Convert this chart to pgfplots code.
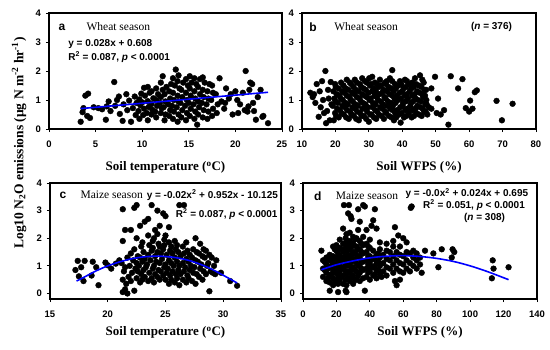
\documentclass[border=0pt]{standalone}
\usepackage{pgfplots}
\pgfplotsset{compat=1.18}
\usepackage{fontspec}
\setmainfont{Liberation Serif}
\newfontfamily\arial{Liberation Sans}
\newcommand\eqf{\arial\bfseries\fontsize{10}{12}\selectfont}
\newcommand\seasonf{\fontsize{11.5}{13}\selectfont}
\newcommand\letterf{\arial\bfseries\fontsize{12}{14}\selectfont}
\pgfplotsset{
  panel/.style={scale only axis, axis line style={line width=1.1pt},
    clip marker paths=true,
    tick align=outside, xtick pos=left, ytick pos=left,
    tick style={line width=0.8pt, black}, major tick length=3pt,
    ticklabel style={font=\arial\bfseries\fontsize{9.5}{10}\selectfont},
    xticklabel style={yshift=-5pt},
    yticklabel style={xshift=-1.5pt},
    /pgf/number format/assume math mode=true,
    ymax=4, ytick={0,1,2,3,4},
    xlabel style={font=\bfseries\fontsize{13}{15}\selectfont},
  },
  dots/.style={only marks, mark=*, mark size=2.9pt, black, mark options={fill=black, draw=black}},
  fit/.style={no marks, blue, line width=1.6pt, smooth},
}
\begin{document}
\begin{tikzpicture}
\useasboundingbox (0,0) rectangle (550pt,349pt);
\node[rotate=90, font=\bfseries\fontsize{13.5}{15}\selectfont] at (19pt,206pt) {Log10 N\textsubscript{2}O emissions (μg N m\textsuperscript{-2} hr\textsuperscript{-1})};
% ---------------- panel a
\begin{axis}[panel, at={(49pt,220pt)}, anchor=south west, width=233pt, height=116pt,
  xmin=0, xmax=25, ymin=0, xtick={0,5,10,15,20,25},
  xlabel={Soil temperature (\textsuperscript{o}C)},
  xlabel style={at={(axis description cs:0.5,-0.335)}, anchor=center}]
\addplot[dots] coordinates {
(3.4,0.25)(3.6,0.58)(3.7,0.72)(3.9,1.15)(4.2,1.22)(4.1,0.45)(4.4,0.38)(4.8,0.75)(5.3,0.72)(5.7,0.68)
(6.1,0.32)(6.2,0.78)(6.4,0.95)(6.6,0.62)(7.0,1.62)(7.1,0.8)(7.3,1.0)(7.5,1.12)(7.6,0.52)(7.9,0.28)
(8.0,0.85)(8.3,1.2)(8.4,0.65)(8.6,0.98)(8.8,0.25)(9.0,0.72)(9.2,1.12)(9.3,0.48)(9.4,0.9)
(9.7,0.35)(9.6,0.62)(9.8,0.82)(9.7,1.02)(9.9,1.22)
(10.1,0.48)(10.2,0.7)(10.0,0.92)(10.3,1.15)(10.2,1.42)
(10.6,0.3)(10.5,0.55)(10.7,0.76)(10.6,0.96)(10.8,1.25)(10.6,1.45)
(11.0,0.5)(11.1,0.66)(11.0,0.86)(11.2,1.06)(11.0,1.3)
(11.5,0.4)(11.4,0.6)(11.6,0.8)(11.5,1.0)(11.7,1.2)(11.5,1.4)
(12.0,0.55)(12.1,0.72)(11.9,0.9)(12.0,1.1)(12.2,1.35)(12.0,1.6)
(12.4,0.3)(12.5,0.5)(12.3,0.75)(12.5,0.95)(12.4,1.2)(12.6,1.45)(12.2,1.82)
(12.9,0.45)(13.0,0.65)(12.8,0.85)(13.0,1.05)(12.9,1.3)(13.1,1.55)
(13.3,0.35)(13.4,0.6)(13.2,0.8)(13.4,1.0)(13.3,1.25)(13.5,1.5)(13.3,1.75)
(13.6,2.05)
(13.8,0.25)(13.9,0.5)(13.7,0.75)(13.9,0.95)(13.8,1.15)(14.0,1.4)(13.8,1.65)(13.9,1.85)
(14.2,0.4)(14.3,0.65)(14.1,0.9)(14.3,1.1)(14.2,1.35)(14.4,1.6)
(14.7,0.3)(14.8,0.55)(14.6,0.8)(14.8,1.0)(14.7,1.25)(14.9,1.5)(14.7,1.72)
(15.1,0.45)(15.2,0.7)(15.0,0.9)(15.2,1.15)(15.1,1.4)(15.3,1.6)(15.1,1.82)
(15.6,0.35)(15.7,0.6)(15.5,0.85)(15.7,1.05)(15.6,1.3)(15.8,1.55)(15.6,1.75)
(15.9,0.15)
(16.0,0.5)(16.1,0.75)(16.0,0.95)(16.2,1.2)(16.0,1.45)(16.2,1.72)
(16.5,0.4)(16.6,0.65)(16.4,0.9)(16.6,1.1)(16.5,1.35)(16.7,1.6)(16.5,1.78)
(17.0,0.35)(17.1,0.6)(16.9,0.85)(17.1,1.05)(17.0,1.3)(17.2,1.55)
(17.5,0.45)(17.6,0.7)(17.4,1.0)(17.6,1.25)(17.5,1.5)
(18.0,0.55)(18.1,0.85)(17.9,1.2)
(18.3,1.75)(18.5,0.95)(18.8,0.7)(19.0,1.4)(18.9,0.9)(19.3,1.05)(19.7,0.5)(20.0,1.3)(20.3,0.55)(20.5,0.85)
(20.8,1.25)(21.0,0.65)(21.1,2.0)(21.3,0.6)(21.4,0.78)(21.5,1.35)(21.6,1.6)(21.8,1.55)(22.0,0.62)(22.2,0.32)
(22.4,1.1)(22.7,1.35)(22.9,0.42)(23.0,0.45)(23.5,0.2)(19.5,1.2)(20.2,1.0)(21.9,0.9)
};
\addplot[fit] coordinates {(3.4,0.703)(23.5,1.266)};
\node[font=\letterf] at (rel axis cs:0.056,0.879) {a};
\node[font=\seasonf, anchor=west] at (rel axis cs:0.146,0.879) {Wheat season};
\node[font=\eqf, anchor=west, inner sep=0pt] at (rel axis cs:0.082,0.733) {y = 0.028x + 0.608};
\node[font=\eqf, anchor=west, inner sep=0pt] at (rel axis cs:0.082,0.621) {R\textsuperscript{2} = 0.087, \textit{p} < 0.0001};
\end{axis}
% ---------------- panel b
\begin{axis}[panel, at={(302pt,220pt)}, anchor=south west, width=234pt, height=116pt,
  xmin=10, xmax=80, ymin=0, xtick={10,20,...,80},
  xlabel={Soil WFPS (\%)},
  xlabel style={at={(axis description cs:0.5,-0.335)}, anchor=center}]
\addplot[dots] coordinates {
(12.5,1.25)(13.2,1.1)(13.6,1.2)(14.0,0.9)(14.4,1.55)(15.0,0.42)(15.3,1.3)(15.6,0.75)(16.0,1.65)(16.3,1.0)
(16.6,0.55)(17.0,2.0)(17.2,0.2)(17.5,0.62)(17.8,1.35)(18.0,1.05)(18.3,0.3)(18.6,1.62)(18.8,0.85)
(19.5,0.3)(19.9,0.55)(19.2,0.8)(19.7,1.05)(19.4,1.3)(19.9,1.55)
(21.0,0.4)(21.4,0.65)(20.7,0.9)(21.2,1.15)(20.9,1.4)
(22.5,0.5)(22.9,0.75)(22.2,1.0)(22.7,1.25)(22.4,1.5)
(24.0,0.35)(24.4,0.6)(23.7,0.85)(24.2,1.1)(23.9,1.35)(24.3,1.6)
(25.5,0.45)(25.9,0.7)(25.2,0.95)(25.7,1.2)(25.4,1.45)(25.8,1.7)
(27.0,0.3)(27.4,0.55)(26.7,0.8)(27.2,1.05)(26.9,1.3)(27.3,1.55)
(28.5,0.45)(28.9,0.7)(28.2,0.9)(28.7,1.15)(28.4,1.4)(28.8,1.65)
(30.0,0.25)(30.4,0.5)(29.7,0.75)(30.2,1.0)(29.9,1.25)(30.3,1.5)(30.1,1.75)
(31.5,0.4)(31.9,0.65)(31.2,0.9)(31.7,1.15)(31.4,1.4)(31.8,1.6)
(33.0,0.5)(33.4,0.75)(32.7,1.0)(33.2,1.2)(32.9,1.45)(33.3,1.7)
(34.5,0.35)(34.9,0.6)(34.2,0.85)(34.7,1.1)(34.4,1.35)(34.8,1.6)
(36.0,0.45)(36.4,0.7)(35.7,0.95)(36.2,1.2)(35.9,1.45)(36.3,1.75)
(37.0,2.03)
(37.5,0.3)(37.9,0.55)(37.2,0.8)(37.7,1.05)(37.4,1.3)(37.8,1.55)
(39.0,0.5)(39.4,0.75)(38.7,1.0)(39.2,1.25)(38.9,1.5)(39.3,1.65)
(39.5,0.22)
(40.5,0.4)(40.9,0.65)(40.2,0.9)(40.7,1.15)(40.4,1.4)(40.8,1.7)
(42.0,0.55)(42.4,0.8)(41.7,1.05)(42.2,1.3)(41.9,1.55)
(43.5,0.45)(43.9,0.7)(43.2,0.95)(43.7,1.2)(43.4,1.45)(43.8,1.75)
(45.0,0.5)(45.4,0.75)(44.7,1.0)(45.2,1.25)(44.9,1.5)(45.3,1.85)
(46.5,0.6)(46.9,0.85)(46.2,1.1)(46.7,1.35)(46.4,1.6)
(47.5,0.5)(47.9,0.75)(47.2,1.0)
(20.2,0.45)(20.5,0.7)(20.0,0.95)(20.4,1.2)(20.1,1.45)
(21.8,0.55)(22.1,0.8)(21.6,1.05)(22.0,1.3)(21.7,1.6)
(23.2,0.4)(23.5,0.65)(23.0,0.9)(23.4,1.15)(23.1,1.4)(23.4,1.7)
(24.8,0.5)(25.1,0.75)(24.6,1.0)(25.0,1.25)(24.7,1.55)
(26.2,0.35)(26.5,0.6)(26.0,0.85)(26.4,1.1)(26.1,1.35)(26.4,1.6)
(27.8,0.45)(28.1,0.7)(27.6,0.95)(28.0,1.2)(27.7,1.45)(28.0,1.75)
(29.2,0.35)(29.5,0.6)(29.0,0.85)(29.4,1.1)(29.1,1.35)(29.4,1.6)
(30.8,0.5)(31.1,0.75)(30.6,1.05)(31.0,1.3)(30.7,1.55)(31.0,1.8)
(32.2,0.35)(32.5,0.6)(32.0,0.85)(32.4,1.1)(32.1,1.3)(32.4,1.55)
(33.8,0.45)(34.1,0.7)(33.6,0.95)(34.0,1.25)(33.7,1.5)
(35.2,0.55)(35.5,0.8)(35.0,1.05)(35.4,1.3)(35.1,1.55)(35.4,1.65)
(36.8,0.4)(37.1,0.65)(36.6,0.9)(37.0,1.15)(36.7,1.4)(37.0,1.65)
(38.2,0.4)(38.5,0.65)(38.0,0.9)(38.4,1.15)(38.1,1.4)
(39.8,0.55)(40.1,0.8)(39.6,1.05)(40.0,1.3)(39.7,1.55)
(41.2,0.45)(41.5,0.7)(41.0,0.95)(41.4,1.2)(41.1,1.45)(41.4,1.65)
(42.8,0.4)(43.1,0.65)(42.6,0.9)(43.0,1.15)(42.7,1.4)(43.0,1.6)
(44.2,0.55)(44.5,0.8)(44.0,1.05)(44.4,1.3)(44.1,1.55)
(45.8,0.45)(46.1,0.7)(45.6,0.95)(46.0,1.2)(45.7,1.45)(46.0,1.7)
(47.0,0.6)(47.3,0.85)(46.8,1.15)(47.1,1.35)
(48.7,0.7)(48.7,1.4)(49.8,1.8)(50.3,0.55)(50.7,1.05)(51.5,0.5)(52.5,0.65)(53.8,0.15)(54.5,1.82)(56.7,1.4)
(58.0,1.72)(59.0,0.72)(60.0,0.6)(60.3,0.98)(61.0,0.7)(61.7,1.27)(62.3,1.33)(68.2,0.97)(69.8,0.3)(73.0,0.87)
};
\node[font=\letterf] at (rel axis cs:0.047,0.879) {b};
\node[font=\seasonf, anchor=west] at (rel axis cs:0.123,0.879) {Wheat season};
\node[font=\eqf] at (rel axis cs:0.81,0.88) {(\textit{n} = 376)};
\end{axis}
% ---------------- panel c
\begin{axis}[panel, at={(50pt,50pt)}, anchor=south west, width=231pt, height=116pt,
  xmin=15, xmax=35, ymin=-0.2, xtick={15,20,...,35},
  xlabel={Soil temperature (\textsuperscript{o}C)},
  xlabel style={at={(axis description cs:0.5,-0.29)}, anchor=center}]
\addplot[dots] coordinates {
(17.2,0.85)(17.4,1.18)(17.5,0.62)(17.7,0.95)(17.9,0.45)(18.0,1.18)(18.6,0.65)(18.7,1.15)(19.0,0.95)(19.2,0.3)
(19.8,1.12)(20.0,1.02)(20.7,1.08)(21.0,1.2)(20.3,0.9)
(21.3,0.05)(21.3,0.5)(21.4,0.8)(21.2,1.1)(21.3,1.9)(21.3,3.05)
(21.5,0.15)(21.6,0.35)(21.5,0.95)(21.5,2.3)
(21.7,0.0)(21.8,0.6)(21.7,1.3)
(22.0,0.45)(22.1,0.75)(21.9,1.0)(22.0,1.45)(22.0,2.3)
(22.3,0.1)(22.4,0.9)(22.2,1.2)(22.3,1.6)(22.3,3.1)
(22.5,0.55)(22.6,0.8)(22.5,1.1)(22.6,1.35)(22.5,2.0)(22.5,3.2)
(22.8,0.4)(22.9,0.7)(22.7,1.0)(22.8,1.3)(22.9,1.7)(22.8,2.45)
(23.0,0.5)(23.1,0.85)(23.0,1.15)(23.1,1.5)(23.0,1.85)
(23.2,0.6)(23.3,0.95)(23.2,1.25)(23.2,2.6)
(23.5,0.45)(23.6,0.75)(23.4,1.05)(23.5,1.4)(23.6,1.75)(23.5,2.1)(23.5,2.7)
(23.8,0.55)(23.9,0.9)(23.7,1.2)(23.8,1.55)(23.9,1.9)(23.8,3.2)
(24.0,0.4)(24.1,0.7)(24.0,1.0)(24.1,1.35)(23.9,1.65)(24.0,2.0)(24.1,2.3)
(24.3,0.6)(24.4,0.85)(24.2,1.15)(24.3,1.5)(24.4,1.8)(24.3,2.15)(24.3,3.0)
(24.5,0.5)(24.6,0.8)(24.5,1.1)(24.6,1.45)(24.5,1.7)(24.5,2.45)
(24.8,0.65)(24.9,0.95)(24.7,1.25)(24.8,1.6)(24.9,1.95)(24.8,2.9)
(25.0,0.5)(25.1,0.75)(25.0,1.05)(25.1,1.4)(24.9,1.75)(25.0,2.1)(25.0,2.8)
(25.3,0.35)(25.4,0.65)(25.2,0.9)(25.3,1.2)(25.4,1.55)(25.3,1.85)(25.3,2.4)
(25.5,0.5)(25.6,0.8)(25.5,1.1)(25.6,1.45)(25.5,1.7)
(25.8,0.4)(25.9,0.7)(25.7,1.0)(25.8,1.3)(25.9,1.6)(25.8,1.9)
(26.0,0.55)(26.1,0.85)(26.0,1.15)(26.1,1.5)(26.0,1.75)
(26.2,0.3)(26.3,0.7)(26.2,1.0)(26.3,1.35)(26.2,3.2)
(26.5,0.5)(26.6,0.8)(26.5,1.1)(26.6,1.45)(26.5,1.7)(26.6,3.2)
(26.8,0.4)(26.9,0.65)(26.7,0.95)(26.8,1.25)(26.9,1.55)(26.8,1.85)
(27.0,0.55)(27.1,0.85)(27.0,1.15)(27.1,1.4)
(27.3,0.45)(27.4,0.75)(27.2,1.0)(27.3,1.3)(27.4,1.6)
(27.6,0.35)(27.7,0.7)(27.5,0.95)(27.6,1.2)(27.7,1.5)(27.6,2.0)
(27.9,0.6)(28.0,0.9)(27.8,1.15)(27.9,1.45)(28.0,1.8)
(28.2,0.5)(28.3,0.8)(28.1,1.05)(28.2,1.35)(28.3,1.6)
(28.5,0.7)(28.6,1.0)(28.4,1.3)(28.5,1.55)
(28.8,0.08)(28.9,0.8)(28.7,1.1)(28.8,1.4)
(29.1,0.75)(29.2,1.0)(29.0,1.3)
(29.3,0.7)(29.4,1.2)(29.8,0.75)(30.6,0.45)(31.2,0.28)
};
\addplot[fit] coordinates {(17.3,0.45)(18,0.6)(19,0.82)(20,1.0)(21,1.14)(22,1.25)(23,1.32)(24,1.35)(25,1.34)(26,1.29)(27,1.2)(28,1.06)(29,0.88)(30,0.66)(31.2,0.38)};
\node[font=\letterf] at (rel axis cs:0.056,0.897) {c};
\node[font=\seasonf, anchor=west] at (rel axis cs:0.117,0.897) {Maize season};
\node[font=\eqf, anchor=west, inner sep=0pt] at (rel axis cs:0.418,0.897) {y = -0.02x\textsuperscript{2} + 0.952x - 10.125};
\node[font=\eqf, anchor=east, inner sep=0pt] at (rel axis cs:0.986,0.73) {R\textsuperscript{2} = 0.087, \textit{p} < 0.0001};
\end{axis}
% ---------------- panel d
\begin{axis}[panel, at={(303pt,50pt)}, anchor=south west, width=234pt, height=116pt,
  xmin=0, xmax=140, ymin=-0.2, xtick={0,20,...,140},
  xlabel={Soil WFPS (\%)},
  xlabel style={at={(axis description cs:0.5,-0.29)}, anchor=center}]
\addplot[dots] coordinates {
(11,1.55)
(12,0.6)(12,0.9)(12,1.2)
(14,0.45)(14,0.75)(14,1.05)(14,1.3)
(16,0.1)(16,0.4)(16,0.65)(16,0.95)(16,1.2)(16,1.4)
(18,0.3)(18,0.55)(18,0.85)(18,1.1)(18,1.35)(18,1.7)
(20,0.5)(20,0.8)(20,1.05)(20,1.3)(20,1.55)(20,1.75)
(21,0.05)(21,0.35)(21,0.65)(21,0.95)(21,1.2)(21,1.45)
(22,0.5)(22,0.8)(22,1.1)(22,1.35)(22,1.65)(22,1.95)
(24,0.35)(24,0.65)(24,0.9)(24,1.2)(24,1.5)(24,1.8)(24,2.35)(24.5,3.2)
(25.5,0.1)(25.5,0.5)(25.5,0.8)(25.5,1.05)(25.5,1.35)(25.5,1.65)(25.5,2.0)
(26,0.05)(26,0.3)(26,0.7)(26,1.0)(26,1.25)(26,1.55)(26,1.85)(26,2.15)
(27,2.9)(27.5,3.2)(27,0.55)
(28,0.45)(28,0.75)(28,1.0)(28,1.3)(28,1.6)(28,1.9)(28,2.2)(28.5,2.8)
(29,2.7)(29,1.15)(29,0.6)
(30,0.35)(30,0.65)(30,0.95)(30,1.25)(30,1.5)(30,1.8)(30,2.05)
(32,0.5)(32,0.8)(32,1.1)(32,1.4)(32,1.7)(32,2.0)
(33,3.05)(33,2.3)
(34,0.45)(34,0.75)(34,1.05)(34,1.35)(34,1.6)(34,1.9)(34,2.6)
(36,0.55)(36,0.85)(36,1.15)(36,1.45)(36,1.75)(36,2.05)(36,3.2)
(37,0.1)(37,3.15)
(38,0.6)(38,0.9)(38,1.2)(38,1.5)(38,1.8)(38,2.3)
(40,0.5)(40,0.8)(40,1.1)(40,1.35)(40,1.65)(40,1.95)
(41,2.45)
(42,0.65)(42,0.95)(42,1.25)(42,1.55)(42,2.65)
(43,3.05)
(44,0.55)(44,0.85)(44,1.15)(44,1.4)(44,2.35)
(46,0.7)(46,1.0)(46,1.3)(46,1.6)(46,1.85)
(47,0.6)
(48,0.8)(48,1.1)(48,1.4)
(50,0.65)(50,0.95)(50,1.25)(50,1.55)(50,1.8)
(52,0.9)(52,1.2)(52,1.5)
(54,0.75)(54,1.05)(54,1.35)(54,1.7)(54,1.9)
(55,0.45)(55,2.4)
(56,0.3)(56,0.9)(56,1.2)(56,1.5)
(57,2.1)
(58,0.5)(58,0.8)(58,1.1)(58,1.4)(58,1.7)
(60,0.75)(60,1.05)(60,1.35)(60,2.0)
(62,0.9)(62,1.2)(62,1.5)(62,1.85)
(64,0.8)(64,1.1)(64,1.45)
(64.5,3.1)(65,3.15)
(66,1.0)(66,1.3)(66,1.55)
(68,0.9)(68,1.2)(68,1.45)
(70,1.05)(70,1.3)
(71,0.75)(73,1.55)(78,1.45)(81,0.95)(83,1.6)(89,1.3)(89.5,1.6)(90.5,1.5)(113,0.55)(113.5,1.2)(114,0.9)(123,0.95)
(13,0.85)(13,1.15)(15,0.55)(15,0.9)(15,1.3)(17,0.7)(17,1.0)(17,1.25)
(19,0.4)(19,0.75)(19,1.0)(19,1.25)(19,1.6)(23,0.6)(23,0.95)(23,1.3)(23,1.6)
(27,0.8)(27,1.15)(27,1.4)(27,1.75)(29,0.85)(29,1.4)(29,1.7)
(31,0.5)(31,0.85)(31,1.2)(31,1.5)(31,1.95)(33,0.65)(33,1.0)(33,1.3)(33,1.6)
(35,0.9)(35,1.2)(35,1.5)(35,1.8)(39,0.75)(39,1.05)(39,1.35)(39,1.7)
(41,0.95)(41,1.25)(43,0.7)(43,1.0)(43,1.3)(45,0.85)(45,1.15)(45,1.45)
};
\addplot[fit] coordinates {(11,0.86)(20,1.04)(30,1.18)(40,1.29)(50,1.35)(60,1.37)(70,1.34)(80,1.27)(90,1.16)(100,1.0)(110,0.8)(123,0.5)};
\node[font=\letterf] at (rel axis cs:0.063,0.888) {d};
\node[font=\seasonf, anchor=west] at (rel axis cs:0.125,0.888) {Maize season};
\node[font=\eqf, anchor=east, inner sep=0pt] at (rel axis cs:0.963,0.91) {y = -0.0x\textsuperscript{2} + 0.024x + 0.695};
\node[font=\eqf, anchor=east, inner sep=0pt] at (rel axis cs:0.949,0.81) {R\textsuperscript{2} = 0.051, \textit{p} < 0.0001};
\node[font=\eqf] at (rel axis cs:0.776,0.70) {(\textit{n} = 308)};
\end{axis}
\end{tikzpicture}
\end{document}
